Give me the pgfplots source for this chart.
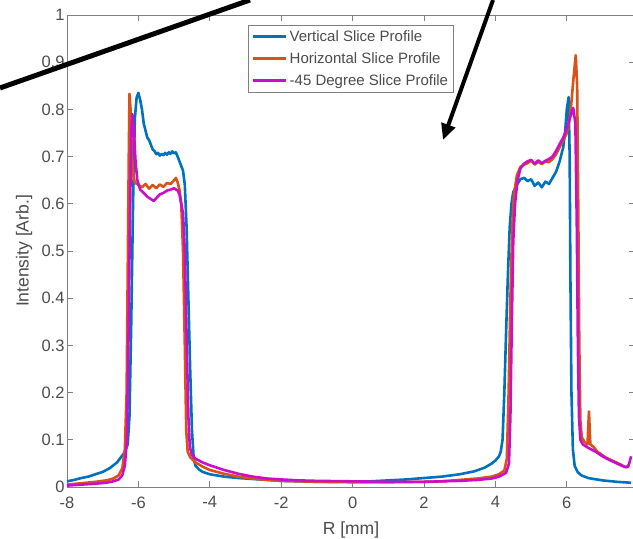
\documentclass[border=0pt]{standalone}
\usepackage{pgfplots}
\pgfplotsset{compat=1.18}
\usepackage{fontspec}
\setmainfont{Liberation Sans}
\usetikzlibrary{arrows.meta}
\definecolor{mblue}{rgb}{0,0.447,0.741}
\definecolor{morange}{rgb}{0.85,0.325,0.098}
\definecolor{mmag}{rgb}{0.80,0.05,0.80}
\definecolor{axgray}{rgb}{0.50,0.50,0.50}
\definecolor{txtgray}{rgb}{0.30,0.30,0.30}
\begin{document}
\begin{tikzpicture}[x=1pt,y=1pt]
\begin{axis}[
  at={(0,0)}, anchor=south west,
  scale only axis, width=568pt, height=472pt,
  xmin=-8, xmax=7.91, ymin=0, ymax=1,
  xtick={-8,-6,-4,-2,0,2,4,6},
  ytick={0,0.1,0.2,0.3,0.4,0.5,0.6,0.7,0.8,0.9,1},
  yticklabels={0,0.1,0.2,0.3,0.4,0.5,0.6,0.7,0.8,0.9,1},
  xticklabels={-8,-6,-4,-2,0,2,4,6},
  tick align=inside, tick pos=both,
  major tick length=6pt,
  axis line style={axgray, line width=0.9pt},
  every tick/.style={axgray, line width=0.9pt},
  tick label style={font=\fontsize{16.5}{19}\selectfont, text=txtgray},
  yticklabel style={xshift=1pt},
  xticklabel style={yshift=-6pt},
  /pgf/number format/assume math mode=true,
  xlabel={R [mm]}, ylabel={Intensity [Arb.]},
  label style={font=\fontsize{17.5}{20}\selectfont, text=txtgray},
  xlabel style={at={(axis description cs:0.5,-0.0900)}, anchor=center},
  ylabel style={at={(axis description cs:-0.0757,0.5)}, anchor=center},
  legend cell align=left,
  legend style={at={(0.3187,0.979)}, anchor=north west, draw=axgray, fill=white,
    font=\fontsize{15}{18}\selectfont, text=txtgray, row sep=4.5pt, inner sep=3pt,
    nodes={inner sep=2.5pt}},
  legend image code/.code={\draw[#1, line width=3pt] (0pt,0pt) -- (33pt,0pt);},
  every axis plot/.append style={line width=2.6pt, line join=round},
]
\addplot[mblue] coordinates {
(-8,0.012) (-7.8,0.015) (-7.6,0.019) (-7.4,0.022) (-7.2,0.027) (-7.0,0.032) (-6.8,0.040) (-6.6,0.052) (-6.5,0.062) (-6.4,0.072) (-6.3,0.09) (-6.25,0.15) (-6.2,0.35) (-6.15,0.6) (-6.1,0.78) (-6.05,0.825) (-6.0,0.835) (-5.95,0.82) (-5.9,0.80) (-5.85,0.77) (-5.8,0.755) (-5.75,0.74) (-5.7,0.735) (-5.65,0.725) (-5.6,0.715) (-5.55,0.712) (-5.5,0.705) (-5.45,0.708) (-5.4,0.702) (-5.35,0.706) (-5.3,0.703) (-5.25,0.708) (-5.2,0.704) (-5.15,0.709) (-5.1,0.706) (-5.05,0.711) (-5.0,0.707) (-4.95,0.709) (-4.9,0.70) (-4.85,0.69) (-4.8,0.68) (-4.75,0.67) (-4.7,0.64) (-4.65,0.55) (-4.6,0.40) (-4.55,0.25) (-4.5,0.12) (-4.45,0.06) (-4.4,0.045) (-4.3,0.037) (-4.2,0.032) (-4.0,0.027) (-3.6,0.022) (-3.2,0.019) (-2.8,0.017) (-2.4,0.015) (-2,0.013) (-1.5,0.012) (-1,0.011) (-0.5,0.011) (0,0.012) (0.5,0.012) (1,0.014) (1.5,0.016) (2,0.019) (2.5,0.022) (3,0.027) (3.4,0.033) (3.7,0.041) (3.9,0.05) (4.0,0.056) (4.1,0.065) (4.15,0.075) (4.2,0.1) (4.25,0.2) (4.3,0.33) (4.35,0.45) (4.4,0.55) (4.45,0.6) (4.5,0.625) (4.6,0.64) (4.7,0.652) (4.8,0.655) (4.9,0.648) (5.0,0.652) (5.1,0.638) (5.2,0.645) (5.3,0.635) (5.4,0.647) (5.5,0.642) (5.6,0.655) (5.7,0.668) (5.8,0.69) (5.9,0.72) (5.95,0.75) (6.0,0.80) (6.05,0.826) (6.08,0.70) (6.1,0.45) (6.13,0.2) (6.17,0.08) (6.22,0.045) (6.3,0.032) (6.4,0.025) (6.6,0.019) (7.0,0.014) (7.4,0.011) (7.8,0.009)
};
\addlegendentry{Vertical Slice Profile}
\addplot[morange] coordinates {
(-8,0.005) (-7.6,0.008) (-7.2,0.011) (-6.9,0.014) (-6.7,0.018) (-6.55,0.025) (-6.45,0.04) (-6.38,0.08) (-6.33,0.2) (-6.3,0.45) (-6.27,0.7) (-6.25,0.833) (-6.22,0.80) (-6.18,0.70) (-6.14,0.66) (-6.1,0.645) (-6.0,0.64) (-5.9,0.635) (-5.8,0.642) (-5.7,0.632) (-5.6,0.640) (-5.5,0.633) (-5.4,0.641) (-5.3,0.636) (-5.2,0.644) (-5.1,0.642) (-5.0,0.65) (-4.95,0.655) (-4.9,0.645) (-4.85,0.63) (-4.8,0.60) (-4.75,0.50) (-4.7,0.30) (-4.66,0.12) (-4.62,0.075) (-4.55,0.063) (-4.4,0.052) (-4.2,0.043) (-4.0,0.036) (-3.6,0.028) (-3.2,0.022) (-2.8,0.018) (-2.4,0.015) (-2,0.013) (-1,0.011) (0,0.010) (1,0.010) (2,0.011) (2.5,0.012) (3,0.015) (3.5,0.018) (3.9,0.022) (4.1,0.027) (4.25,0.035) (4.32,0.06) (4.37,0.2) (4.42,0.4) (4.47,0.55) (4.52,0.62) (4.6,0.66) (4.7,0.678) (4.8,0.683) (4.9,0.686) (5.0,0.692) (5.1,0.683) (5.2,0.689) (5.3,0.684) (5.4,0.69) (5.5,0.688) (5.6,0.695) (5.7,0.705) (5.8,0.72) (5.9,0.735) (6.0,0.75) (6.1,0.79) (6.18,0.86) (6.25,0.915) (6.29,0.85) (6.32,0.6) (6.35,0.3) (6.38,0.14) (6.42,0.105) (6.5,0.095) (6.58,0.09) (6.62,0.16) (6.66,0.09) (6.75,0.085) (6.85,0.075) (6.95,0.07) (7.1,0.062) (7.3,0.055) (7.5,0.048) (7.65,0.042) (7.75,0.045)
};
\addlegendentry{Horizontal Slice Profile}
\addplot[mmag] coordinates {
(-8,0.003) (-7.6,0.005) (-7.2,0.007) (-6.9,0.009) (-6.7,0.012) (-6.55,0.016) (-6.45,0.025) (-6.38,0.045) (-6.32,0.1) (-6.28,0.3) (-6.24,0.55) (-6.2,0.75) (-6.17,0.79) (-6.13,0.76) (-6.08,0.69) (-6.03,0.65) (-5.95,0.63) (-5.85,0.623) (-5.75,0.615) (-5.65,0.61) (-5.57,0.606) (-5.5,0.612) (-5.4,0.62) (-5.3,0.623) (-5.2,0.628) (-5.1,0.63) (-5.0,0.633) (-4.9,0.628) (-4.85,0.62) (-4.8,0.60) (-4.75,0.58) (-4.7,0.50) (-4.65,0.32) (-4.6,0.15) (-4.56,0.085) (-4.5,0.068) (-4.4,0.06) (-4.2,0.052) (-4,0.046) (-3.6,0.036) (-3.2,0.028) (-2.8,0.022) (-2.4,0.018) (-2,0.016) (-1.5,0.014) (-1,0.013) (0,0.012) (1,0.011) (2,0.011) (2.5,0.012) (3,0.013) (3.5,0.015) (3.9,0.018) (4.1,0.022) (4.3,0.03) (4.38,0.05) (4.42,0.15) (4.46,0.35) (4.5,0.52) (4.55,0.6) (4.62,0.65) (4.7,0.675) (4.8,0.685) (4.9,0.69) (5.0,0.693) (5.1,0.685) (5.2,0.692) (5.3,0.686) (5.4,0.691) (5.5,0.695) (5.6,0.70) (5.7,0.712) (5.8,0.727) (5.9,0.74) (6.0,0.76) (6.1,0.785) (6.18,0.803) (6.24,0.77) (6.28,0.55) (6.31,0.3) (6.34,0.15) (6.38,0.10) (6.45,0.09) (6.6,0.083) (6.8,0.075) (7.0,0.065) (7.2,0.057) (7.4,0.05) (7.6,0.043) (7.7,0.042) (7.75,0.05) (7.8,0.065)
};
\addlegendentry{-45 Degree Slice Profile}
\end{axis}
\draw[black, line width=5pt] (-67,399) -- (183,487);
\draw[black, line width=4pt, -{Triangle[length=16pt,width=14pt]}] (426,487) -- (376,347);
\pgfresetboundingbox
\path[use as bounding box] (-67,-52) rectangle (566,487);
\end{tikzpicture}
\end{document}
